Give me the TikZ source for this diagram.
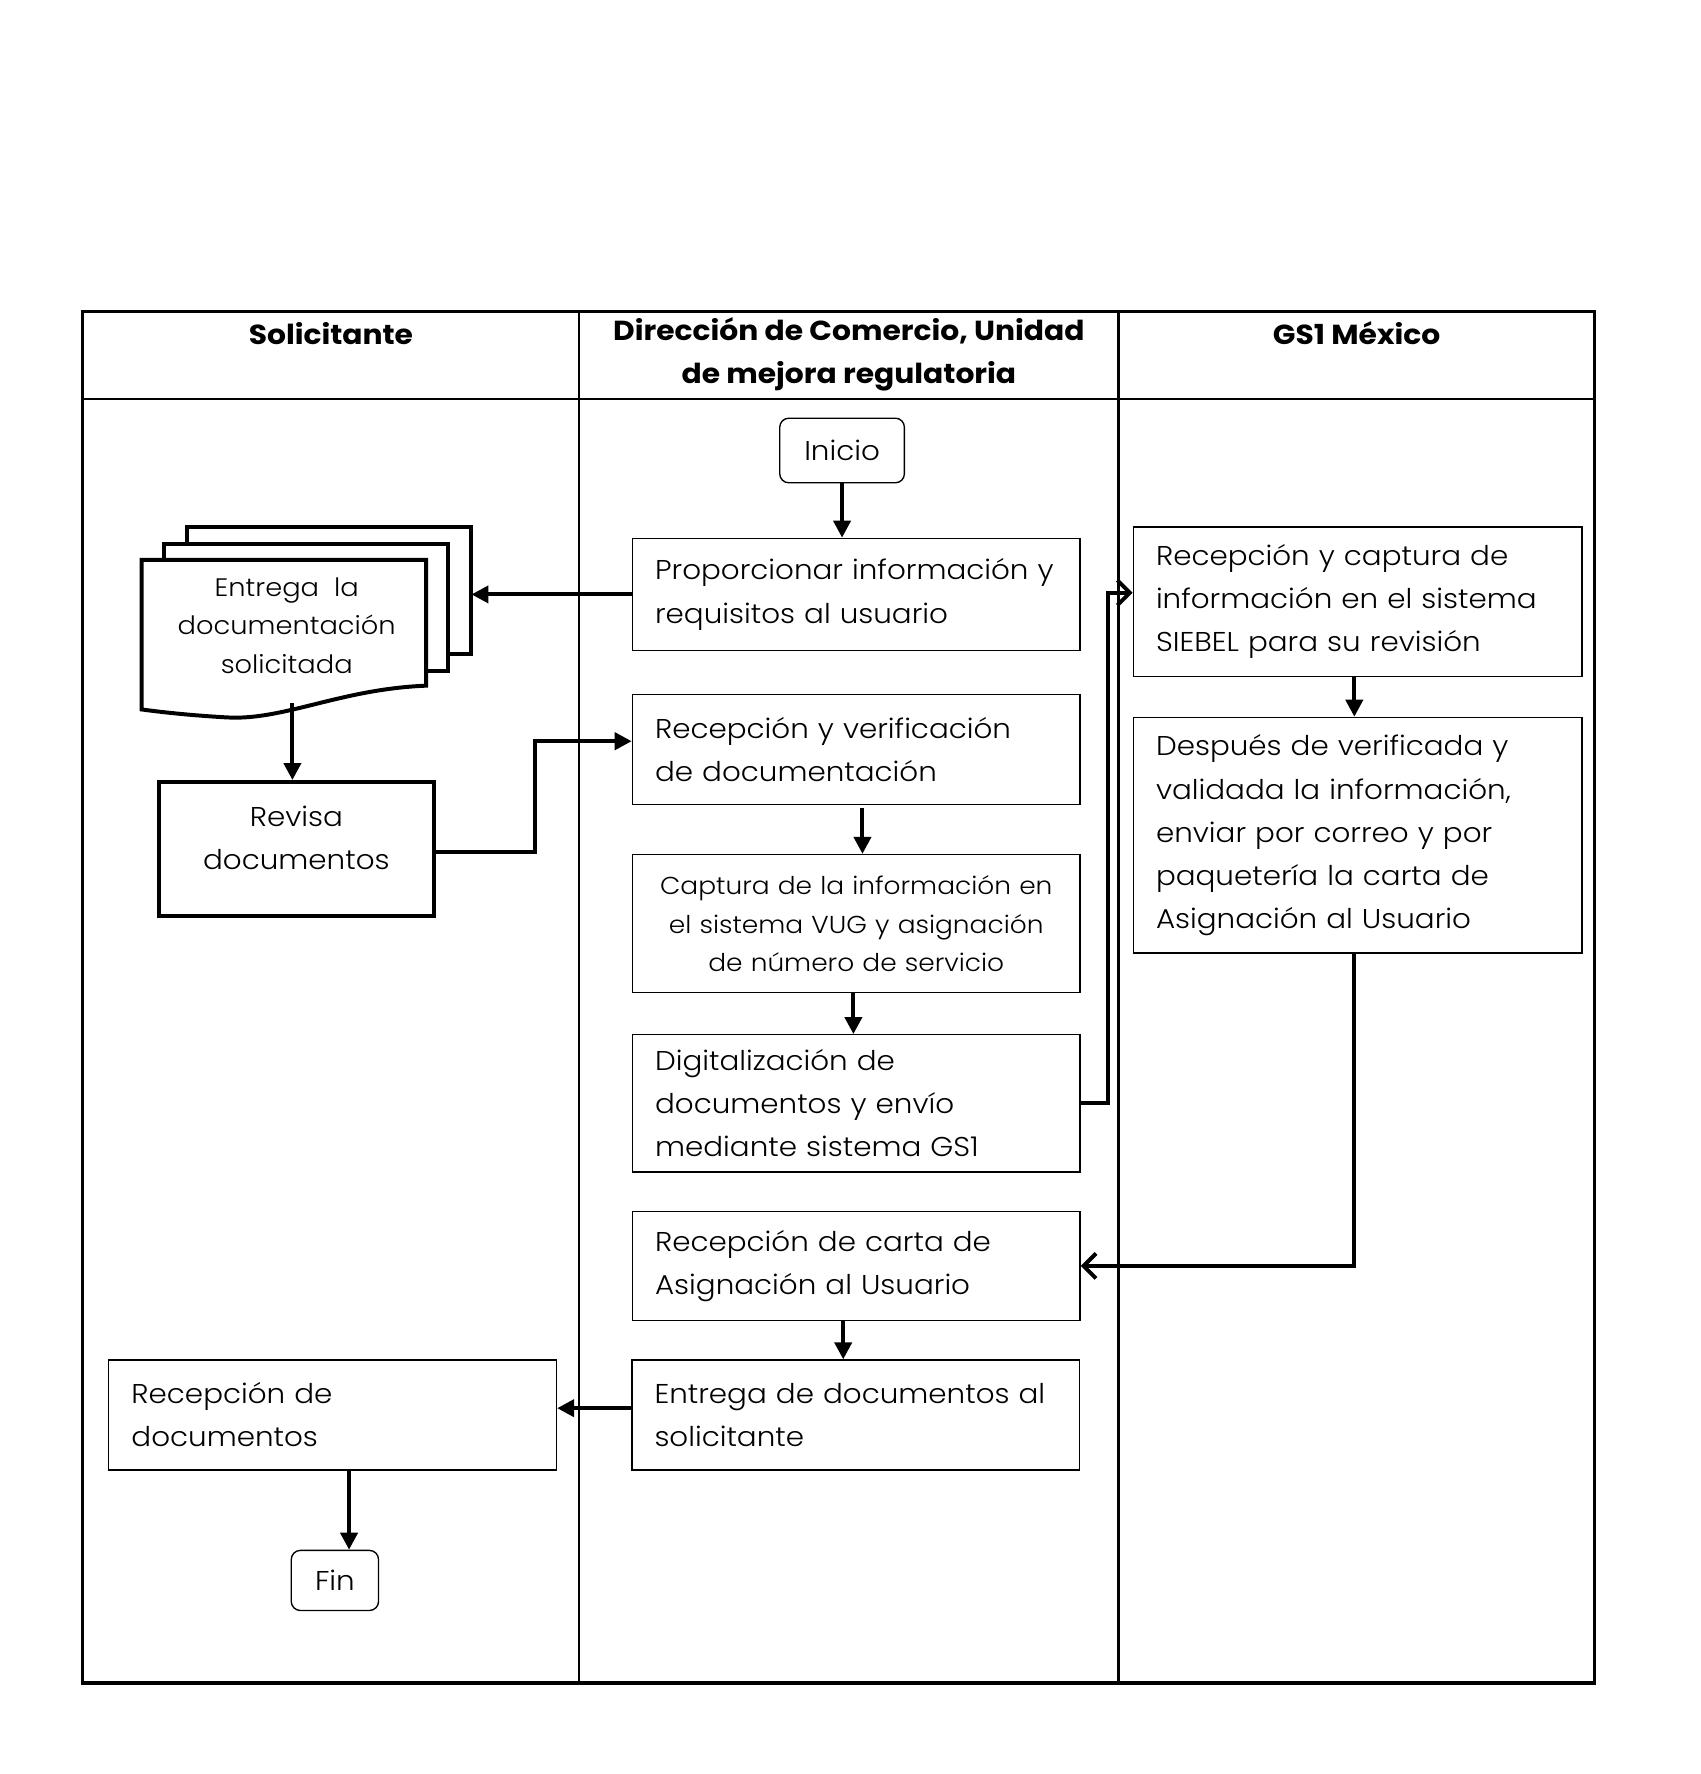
\documentclass[tikz,border=0pt]{standalone}
\usepackage{fontspec}
\IfFontExistsTF{Poppins Light}
  {\setmainfont{Poppins}[UprightFont=* Light, BoldFont=* Bold, FakeStretch=1.08]}
  {\setmainfont{Poppins}[FakeStretch=1.08]}
\usetikzlibrary{arrows.meta}
\newcommand\fsbox{\fontsize{24}{38}\selectfont}
\newcommand\fshead{\fontsize{24.3}{38}\selectfont}
\newcommand\fssmall{\fontsize{21.6}{34}\selectfont}
\newcommand\fsdoc{\fontsize{22.3}{34}\selectfont}
\begin{document}
\begin{tikzpicture}[x=1pt,y=-1pt,
  frame/.style={line width=3pt},
  lane/.style={line width=2pt},
  box/.style={draw, line width=1.2pt, rectangle, inner xsep=20pt, inner ysep=0pt,
    minimum width=#1, text width=#1-40pt, align=left, font=\fsbox},
  box/.default=395pt,
  cbox/.style={draw, line width=1.2pt, rectangle, inner xsep=6pt, inner ysep=0pt,
    minimum width=395pt, text width=383pt, align=center, font=\fssmall},
  thickbox/.style={draw, line width=3.5pt, rectangle, inner sep=0pt,
    minimum width=243pt, minimum height=118pt, align=center, font=\fsbox},
  term/.style={draw, line width=1.2pt, rounded corners=8pt, rectangle, inner sep=0pt, font=\fsbox},
  head/.style={font=\bfseries\fshead, align=center},
  doc/.style={draw, line width=3.5pt, fill=white},
  arr/.style={line width=3.5pt, -{Triangle[length=15pt,width=15pt]}},
  arrO/.style={line width=3.5pt, -{Straight Barb[length=11pt,width=22pt]}},
]
\useasboundingbox (0,0) rectangle (1500,1565.3);

% swimlane frame
\draw[lane] (73,352) -- (1407,352);
\draw[lane] (511,275) -- (511,1485);
\draw[lane] (987,275) -- (987,1485);
\draw[frame] (73,275) rectangle (1407,1485);

\node[head] (h1) at (292,294) {Solicitante};
\node[head] (h2) at (749,313) {Dirección de Comercio, Unidad\\de mejora regulatoria};
\node[head] (h3) at (1197,294) {GS1 México};

% document stack
\draw[doc] (165,465) rectangle (416,577);
\draw[doc] (145,480) rectangle (395,592);
\draw[doc] (125,494) -- (376,494) -- (376,605)
  .. controls (300,608) and (250,636) .. (200,633)
  .. controls (165,631) and (140,628) .. (125,626) -- cycle;
\node[font=\fsdoc, align=center] (doctext) at (253,552) {Entrega~~la\\documentación\\solicitada};
\coordinate (docR) at (416,523);
\coordinate (docB) at (258,620);

% nodes
\node[term, minimum width=110pt, minimum height=57pt] (inicio) at (743,397.5) {Inicio};
\node[box, minimum height=99pt] (prop) at (755.5,524.5) {Proporcionar información y\\requisitos al usuario};
\node[box, minimum height=97pt] (recver) at (755.5,661.5) {Recepción y verificación\\de documentación};
\node[cbox, minimum height=122pt] (captura) at (755.5,815) {Captura de la información en\\el sistema VUG y asignación\\de número de servicio};
\node[box, minimum height=121pt] (digit) at (755.5,973.5) {Digitalización de\\documentos y envío\\mediante sistema GS1};
\node[box, minimum height=96pt] (reccarta) at (755.5,1117) {Recepción de carta de\\Asignación al Usuario};
\node[box, minimum height=97pt] (entrega) at (755,1248.5) {Entrega de documentos al\\solicitante};
\node[box, minimum height=97pt] (recdoc) at (293.5,1248.5) {Recepción de\\documentos};
\node[term, minimum width=77pt, minimum height=53pt] (fin) at (295.5,1394.5) {Fin};
\node[box=396pt, minimum height=132pt] (g1) at (1198,531) {Recepción y captura de\\información en el sistema\\SIEBEL para su revisión};
\node[box=396pt, minimum height=208pt] (g2) at (1198,737) {Después de verificada y\\validada la información,\\enviar por correo y por\\paquetería la carta de\\Asignación al Usuario};
\node[thickbox] (revisa) at (261.5,749) {Revisa\\documentos\\[-18pt]\mbox{}};

% connectors
\draw[arr] (inicio.south) -- (inicio.south |- prop.north);
\draw[arr] (prop.west) -- (prop.west -| docR);
\draw[arr] (docB) -- (docB |- revisa.north);
\draw[arr] ([yshift=-3pt]revisa.east) -- ++(87,0) |- ([yshift=7.5pt]recver.west);
\draw[arr] ([xshift=5.5pt,yshift=-2pt]recver.south) -- ([xshift=5.5pt]captura.north);
\draw[arr] ([xshift=-2.5pt]captura.south) -- ([xshift=-2.5pt]digit.north);
\draw[arrO] ([yshift=0.5pt]digit.east) -- ++(24,0) |- ([yshift=8pt]g1.west);
\draw[arr] ([xshift=-3pt]g1.south) -- ([xshift=-3pt]g2.north);
\draw[arrO] ([xshift=-3pt]g2.south) |- (reccarta.east);
\draw[arr] ([xshift=-11.5pt]reccarta.south) -- ([xshift=-11pt]entrega.north);
\draw[arr] ([yshift=6pt]entrega.west) -- ([yshift=6pt]recdoc.east);
\draw[arr] ([xshift=14.5pt]recdoc.south) -- ([xshift=12.5pt]fin.north);
\end{tikzpicture}
\end{document}
